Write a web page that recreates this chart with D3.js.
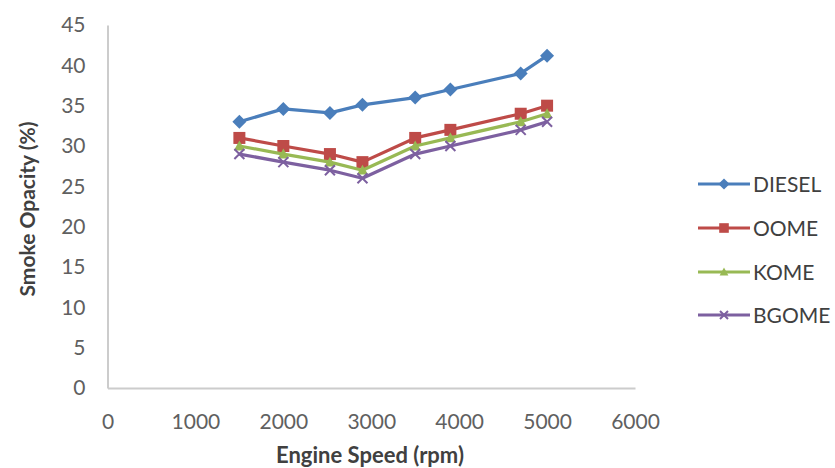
<!DOCTYPE html>
<html><head><meta charset="utf-8">
<script src="https://cdn.jsdelivr.net/npm/d3@7"></script>
<style>body{margin:0;background:#fff;} svg{display:block;}</style>
</head><body>
<svg id="c" width="835" height="468"></svg>
<script>
const speeds = [1500, 2000, 2530, 2900, 3500, 3900, 4700, 5000];
const diesel = [33, 34.6, 34.1, 35.1, 36, 37, 39, 41.2];
const oome   = [31, 30, 29, 28, 31, 32, 34, 35];
const kome   = [30, 29, 28, 27, 30, 31, 33, 34];
const bgome  = [29, 28, 27, 26, 29, 30, 32, 33];
const seriesNames = ["DIESEL", "OOME", "KOME", "BGOME"];
const xTicks = [0, 1000, 2000, 3000, 4000, 5000, 6000];
const yTicks = [0, 5, 10, 15, 20, 25, 30, 35, 40, 45];

const colors = ["#4a7ebb", "#be4b48", "#98b954", "#7d60a0"];
const markers = ["diamond", "square", "triangle", "x"];
const series = [diesel, oome, kome, bgome].map((v, i) => ({name: seriesNames[i], values: v, color: colors[i], marker: markers[i]}));

const svg = d3.select("#c");
const font = "Lato, 'Open Sans', sans-serif";
const x = d3.scaleLinear().domain([0, 6000]).range([107.5, 635]);
const y = d3.scaleLinear().domain([0, 45]).range([388, 25]);

// axes
const xa = svg.append("g").attr("transform", "translate(0,388)")
  .call(d3.axisBottom(x).tickValues(xTicks).tickSize(0).tickPadding(26).tickFormat(d3.format("d")));
const ya = svg.append("g").attr("transform", "translate(107.5,0)")
  .call(d3.axisLeft(y).tickValues(yTicks).tickSize(0).tickPadding(22));
[xa, ya].forEach(g => {
  g.select(".domain").attr("stroke", "#cccccc").attr("stroke-width", 2);
  g.selectAll("text").attr("font-family", font).attr("font-size", 21).attr("fill", "#606060");
});
xa.selectAll("text").attr("dy", "0.71em");

// axis titles
svg.append("text").attr("x", 370).attr("y", 463).attr("text-anchor", "middle")
  .attr("font-family", font).attr("font-weight", "bold").attr("font-size", 22).attr("fill", "#404040")
  .text("Engine Speed (rpm)");
svg.append("text").attr("transform", "translate(35,209) rotate(-90)").attr("text-anchor", "middle")
  .attr("font-family", font).attr("font-weight", "bold").attr("font-size", 21).attr("fill", "#404040")
  .text("Smoke Opacity (%)");

function drawMarker(g, type, color, size) {
  if (type === "diamond") {
    const s = size / 2;
    g.append("path").attr("d", `M0,${-s}L${s},0L0,${s}L${-s},0Z`).attr("fill", color);
  } else if (type === "square") {
    g.append("rect").attr("x", -size / 2).attr("y", -size / 2).attr("width", size).attr("height", size).attr("fill", color);
  } else if (type === "triangle") {
    const s = size / 2;
    g.append("path").attr("d", `M0,${-s}L${s},${s * 0.8}L${-s},${s * 0.8}Z`).attr("fill", color);
  } else {
    const s = size / 2;
    g.append("path").attr("d", `M${-s},${-s}L${s},${s}M${-s},${s}L${s},${-s}`).attr("stroke", color).attr("stroke-width", 2);
  }
}

const line = d3.line().x((d, i) => x(speeds[i])).y(d => y(d));
const msize = [14, 12, 11, 10];
series.forEach((s, k) => {
  svg.append("path").datum(s.values).attr("d", line).attr("fill", "none")
    .attr("stroke", s.color).attr("stroke-width", 3.2).attr("stroke-linejoin", "round");
  s.values.forEach((v, i) => {
    const g = svg.append("g").attr("transform", `translate(${x(speeds[i])},${y(v)})`);
    drawMarker(g, s.marker, s.color, msize[k]);
  });
});

// legend
const legY = [184, 228, 272, 315];
series.forEach((s, k) => {
  const g = svg.append("g").attr("transform", `translate(0,${legY[k]})`);
  g.append("line").attr("x1", 698).attr("x2", 750).attr("stroke", s.color).attr("stroke-width", 3);
  const m = g.append("g").attr("transform", "translate(724,0)");
  drawMarker(m, s.marker, s.color, msize[k] * 0.8);
  g.append("text").attr("x", 753).attr("y", 0).attr("dy", "0.36em")
    .attr("font-family", font).attr("font-size", 21).attr("fill", "#404040").text(s.name);
});
</script>
</body></html>
